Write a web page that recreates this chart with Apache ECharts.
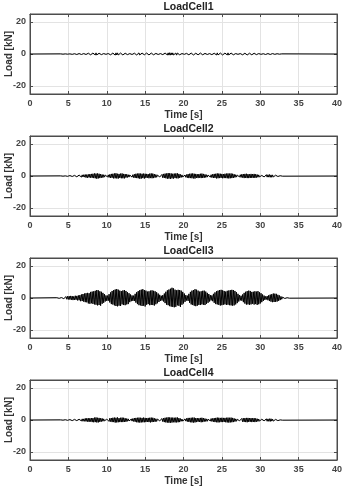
<!DOCTYPE html>
<html>
<head>
<meta charset="utf-8">
<style>
html,body{margin:0;padding:0;background:#fff;}
#chart{width:344px;height:488px;}
</style>
<script src="https://cdn.jsdelivr.net/npm/echarts@6/dist/echarts.min.js"></script>
</head>
<body>
<div id="chart"></div>
<script>
// ---- data (kN) ----
const titles = ['LoadCell1', 'LoadCell2', 'LoadCell3', 'LoadCell4'];
const xTicks = [0, 5, 10, 15, 20, 25, 30, 35, 40];
const yTicks = [-20, 0, 20];
const xLabel = 'Time [s]';
const yLabel = 'Load [kN]';

// LoadCell1: samples every 0.1 s starting at 4.0 s
const cell1Start = 4.0, cell1Step = 0.1;
const cell1 = [
 0.1,-0.1,0.1,-0.1,0.1,-0.1,0.1,-0.1,0.2,-0.1,
 0.2,-0.2,0.1,-0.2,0.2,-0.2,0.2,-0.1,0.2,-0.2,
 0.2,-0.3,0.2,-0.3,0.3,-0.2,0.3,-0.3,0.3,-0.3,
 0.3,-0.4,0.4,-0.3,0.4,-0.4,0.5,-0.4,0.4,-0.5,
 0.5,-0.5,0.6,-0.5,0.6,-0.6,0.7,-0.6,0.6,-0.5,
 0.5,-0.5,0.4,-0.4,0.4,-0.3,0.3,-0.3,0.3,-0.2,
 0.3,-0.3,0.3,-0.4,0.4,-0.5,0.5,-0.5,0.6,-0.6,
 0.6,-0.7,0.7,-0.6,0.7,-0.6,0.6,-0.5,0.6,-0.6,
 0.6,-0.6,0.5,-0.5,0.5,-0.4,0.4,-0.4,0.3,-0.3,
 0.3,-0.2,0.3,-0.3,0.4,-0.4,0.5,-0.5,0.5,-0.6,
 0.6,-0.6,0.7,-0.6,0.6,-0.7,0.6,-0.6,0.6,-0.5,
 0.5,-0.5,0.6,-0.5,0.5,-0.6,0.6,-0.6,0.6,-0.6,
 0.6,-0.5,0.5,-0.4,0.4,-0.3,0.3,-0.3,0.2,-0.3,
 0.3,-0.3,0.4,-0.4,0.5,-0.5,0.6,-0.6,0.7,-0.6,
 0.7,-0.7,0.8,-0.7,0.7,-0.6,0.7,-0.6,0.6,-0.6,
 0.6,-0.7,0.6,-0.6,0.5,-0.5,0.4,-0.4,0.3,-0.3,
 0.3,-0.2,0.3,-0.3,0.4,-0.4,0.5,-0.5,0.6,-0.6,
 0.6,-0.6,0.7,-0.6,0.6,-0.6,0.5,-0.5,0.5,-0.5,
 0.5,-0.5,0.6,-0.5,0.6,-0.5,0.5,-0.4,0.4,-0.4,
 0.3,-0.3,0.3,-0.2,0.3,-0.3,0.4,-0.4,0.5,-0.5,
 0.5,-0.6,0.6,-0.6,0.7,-0.6,0.6,-0.6,0.6,-0.5,
 0.6,-0.6,0.5,-0.5,0.6,-0.6,0.6,-0.6,0.7,-0.6,
 0.6,-0.6,0.6,-0.5,0.5,-0.5,0.4,-0.4,0.3,-0.3,
 0.3,-0.2,0.3,-0.3,0.3,-0.4,0.4,-0.5,0.5,-0.5,
 0.5,-0.5,0.6,-0.6,0.5,-0.5,0.5,-0.5,0.5,-0.5,
 0.5,-0.5,0.5,-0.4,0.4,-0.4,0.3,-0.3,0.3,-0.2,
 0.2,-0.2,0.2,-0.2,0.2,-0.3,0.3,-0.3,0.3,-0.3,
 0.3,-0.3,0.4,-0.3,0.3,-0.3,0.3,-0.3,0.3,-0.2,
 0.2,-0.2,0.2,-0.2,0.1,-0.1,0.1,-0.1,0.1,-0.1,
 0.1
];

// LoadCell2: samples every 0.1 s starting at 4.0 s
const cell2Start = 4.0, cell2Step = 0.1;
const cell2 = [
 0.1,-0.1,0.2,-0.1,0.2,-0.2,0.1,-0.2,0.2,-0.2,
 0.3,-0.2,0.3,-0.3,0.4,-0.3,0.3,-0.4,0.4,-0.3,
 0.4,-0.5,0.4,-0.5,0.6,-0.5,0.6,-0.7,0.7,-0.6,
 0.8,-0.7,0.9,-1.0,0.9,-1.1,1.0,-0.9,1.2,-1.1,
 1.3,-1.1,1.4,-1.3,1.6,-1.4,1.5,-1.7,1.6,-1.5,
 1.4,-1.3,1.2,-1.1,0.9,-1.0,0.8,-0.7,0.6,-0.5,
 0.5,-0.6,0.7,-0.9,1.0,-1.2,1.3,-1.1,1.4,-1.5,
 1.6,-1.4,1.7,-1.5,1.4,-1.6,1.3,-1.2,1.5,-1.4,
 1.6,-1.4,1.3,-1.5,1.2,-1.0,1.1,-0.9,0.8,-0.7,
 0.6,-0.5,0.5,-0.7,0.8,-1.0,1.1,-1.2,1.4,-1.3,
 1.5,-1.4,1.6,-1.7,1.5,-1.6,1.4,-1.3,1.5,-1.6,
 1.4,-1.2,1.3,-1.1,1.2,-1.4,1.5,-1.3,1.6,-1.4,
 1.5,-1.3,1.2,-1.0,0.9,-0.8,0.6,-0.5,0.5,-0.6,
 0.6,-0.8,1.0,-1.1,1.3,-1.2,1.5,-1.4,1.6,-1.7,
 1.8,-1.6,1.7,-1.8,1.6,-1.5,1.4,-1.6,1.5,-1.3,
 1.6,-1.4,1.7,-1.5,1.3,-1.2,1.0,-0.9,0.7,-0.6,
 0.5,-0.6,0.6,-0.8,0.9,-1.1,1.2,-1.3,1.4,-1.3,
 1.5,-1.4,1.6,-1.5,1.4,-1.6,1.3,-1.2,1.1,-1.3,
 1.2,-1.1,1.4,-1.3,1.5,-1.2,1.3,-1.1,1.0,-0.9,
 0.8,-0.7,0.6,-0.5,0.5,-0.7,0.8,-1.0,1.1,-1.2,
 1.3,-1.2,1.4,-1.5,1.6,-1.4,1.5,-1.3,1.4,-1.2,
 1.3,-1.4,1.2,-1.3,1.4,-1.3,1.5,-1.4,1.6,-1.5,
 1.5,-1.4,1.6,-1.3,1.4,-1.2,1.1,-0.9,0.8,-0.7,
 0.6,-0.5,0.5,-0.6,0.8,-0.9,1.1,-1.0,1.2,-1.3,
 1.3,-1.2,1.4,-1.3,1.2,-1.3,1.1,-1.2,1.3,-1.2,
 1.2,-1.1,1.3,-1.2,1.1,-1.0,0.9,-0.8,0.7,-0.6,
 0.5,-0.5,0.4,-0.4,0.5,-0.6,0.6,-0.7,0.8,-0.7,
 0.8,-0.7,0.9,-0.8,0.7,-0.8,0.7,-0.6,0.6,-0.5,
 0.5,-0.4,0.4,-0.3,0.3,-0.2,0.2,-0.1,0.1,-0.1,
 0.1
];

// LoadCell3: samples every 0.1 s starting at 3.5 s
const cell3Start = 3.5, cell3Step = 0.1;
const cell3 = [
 0.2,-0.3,0.3,-0.2,0.4,-0.3,0.3,-0.4,0.5,-0.4,
 0.6,-0.7,0.9,-0.8,1.1,-0.9,1.2,-1.0,1.3,-1.1,
 1.2,-1.3,1.0,-1.2,1.4,-1.1,1.3,-1.5,1.6,-1.4,
 1.8,-2.0,2.2,-1.9,2.5,-2.3,2.8,-2.6,3.0,-2.7,
 3.2,-3.4,3.0,-3.6,3.8,-3.3,4.0,-3.7,4.2,-4.0,
 4.5,-4.2,5.0,-4.6,4.8,-4.4,4.2,-4.8,3.9,-3.6,
 3.2,-3.0,2.4,-2.2,1.6,-1.8,1.5,-1.7,2.4,-2.8,
 3.5,-3.8,4.4,-4.1,4.9,-4.6,5.3,-5.0,5.6,-5.2,
 5.2,-4.8,4.6,-5.0,4.3,-4.0,4.7,-4.4,5.0,-4.5,
 4.4,-4.0,3.6,-3.8,3.0,-2.6,2.2,-2.0,1.6,-1.8,
 1.5,-1.9,2.6,-2.9,3.6,-3.8,4.3,-4.5,4.9,-4.6,
 5.2,-5.0,5.5,-4.8,5.0,-5.3,4.6,-4.2,4.0,-3.8,
 4.2,-4.5,4.6,-4.3,4.8,-4.4,4.5,-4.7,4.2,-3.9,
 3.6,-3.3,2.8,-2.5,2.0,-1.8,1.4,-1.6,1.8,-2.2,
 2.8,-3.2,3.9,-4.2,4.8,-4.5,5.3,-5.1,5.8,-5.4,
 6.4,-5.6,6.0,-5.8,5.2,-5.5,4.8,-4.6,5.1,-4.9,
 5.0,-5.6,4.6,-4.2,3.8,-3.4,2.8,-2.4,1.8,-1.6,
 1.5,-1.8,2.6,-3.0,3.8,-4.0,4.6,-4.4,5.0,-4.8,
 5.5,-5.1,5.2,-4.8,4.6,-4.3,4.0,-4.4,4.2,-4.0,
 4.5,-4.2,4.6,-4.4,4.0,-3.6,3.2,-3.0,2.5,-2.2,
 1.8,-1.5,1.6,-2.0,2.6,-3.0,3.5,-3.8,4.2,-4.0,
 4.6,-4.3,5.0,-4.7,5.1,-4.5,4.8,-4.2,4.4,-4.0,
 4.0,-4.3,4.5,-4.2,4.7,-4.5,4.9,-4.6,5.1,-4.8,
 5.0,-4.6,4.4,-4.0,3.6,-3.2,2.6,-2.2,1.8,-1.5,
 1.4,-1.7,2.2,-2.6,3.2,-3.5,3.9,-4.1,4.3,-4.0,
 4.6,-4.2,4.4,-4.0,3.8,-3.6,3.9,-4.1,4.2,-3.8,
 4.0,-4.3,4.3,-3.9,3.6,-3.4,3.0,-2.6,2.2,-1.8,
 1.5,-1.2,1.0,-0.9,1.2,-1.4,1.7,-1.9,2.1,-2.3,
 2.4,-2.6,2.8,-2.5,2.7,-2.4,2.6,-2.2,2.0,-1.8,
 1.6,-1.3,1.0,-0.8,0.6,-0.5,0.4,-0.3,0.3,-0.2,
 0.2,-0.1,0.1,-0.1,0.1,0
];

// LoadCell4: samples every 0.1 s starting at 4.0 s
const cell4Start = 4.0, cell4Step = 0.1;
const cell4 = [
 0.1,-0.2,0.1,-0.1,0.2,-0.1,0.2,-0.2,0.1,-0.2,
 0.2,-0.3,0.3,-0.2,0.3,-0.4,0.3,-0.3,0.4,-0.4,
 0.5,-0.4,0.5,-0.6,0.5,-0.6,0.7,-0.6,0.7,-0.8,
 0.7,-0.8,1.0,-0.9,1.1,-1.0,1.1,-1.2,1.1,-1.0,
 1.2,-1.3,1.2,-1.4,1.5,-1.3,1.6,-1.5,1.4,-1.5,
 1.3,-1.2,1.1,-1.0,1.0,-0.8,0.7,-0.6,0.5,-0.5,
 0.6,-0.5,0.8,-0.9,1.1,-1.0,1.2,-1.3,1.4,-1.3,
 1.5,-1.6,1.4,-1.5,1.6,-1.4,1.2,-1.3,1.4,-1.3,
 1.5,-1.3,1.4,-1.2,1.1,-1.1,0.9,-0.8,0.7,-0.6,
 0.5,-0.6,0.6,-0.7,0.9,-0.9,1.2,-1.1,1.3,-1.4,
 1.4,-1.5,1.5,-1.6,1.4,-1.5,1.3,-1.4,1.5,-1.4,
 1.3,-1.3,1.2,-1.2,1.3,-1.3,1.4,-1.5,1.5,-1.3,
 1.4,-1.2,1.1,-1.1,0.8,-0.9,0.6,-0.6,0.5,-0.5,
 0.7,-0.7,0.9,-1.0,1.2,-1.3,1.4,-1.5,1.5,-1.6,
 1.7,-1.7,1.6,-1.7,1.5,-1.6,1.5,-1.4,1.4,-1.5,
 1.5,-1.5,1.6,-1.4,1.2,-1.3,0.9,-0.8,0.6,-0.7,
 0.5,-0.5,0.7,-0.7,1.0,-1.0,1.3,-1.2,1.3,-1.4,
 1.4,-1.5,1.5,-1.6,1.5,-1.5,1.2,-1.3,1.2,-1.1,
 1.1,-1.2,1.3,-1.4,1.4,-1.3,1.2,-1.0,0.9,-0.9,
 0.7,-0.8,0.5,-0.6,0.6,-0.6,0.9,-0.9,1.0,-1.1,
 1.2,-1.3,1.3,-1.4,1.5,-1.5,1.4,-1.4,1.3,-1.3,
 1.4,-1.3,1.3,-1.2,1.3,-1.4,1.4,-1.5,1.5,-1.6,
 1.4,-1.5,1.5,-1.4,1.3,-1.3,1.0,-1.0,0.7,-0.8,
 0.5,-0.6,0.6,-0.5,0.7,-0.8,1.0,-1.1,1.1,-1.2,
 1.2,-1.3,1.3,-1.4,1.3,-1.2,1.2,-1.1,1.2,-1.3,
 1.1,-1.2,1.2,-1.3,1.0,-1.1,0.8,-0.9,0.6,-0.7,
 0.5,-0.4,0.5,-0.4,0.6,-0.5,0.7,-0.6,0.7,-0.8,
 0.7,-0.8,0.8,-0.9,0.8,-0.7,0.6,-0.7,0.5,-0.6,
 0.4,-0.5,0.3,-0.4,0.2,-0.3,0.1,-0.2,0.1,-0.1,
 0.1
];

const xMin = 0, xMax = 40, yMin = -25, yMax = 25;

// ---- build chart ----
function toPairs(vals, start, step) {
  const out = [[xMin, 0]];
  for (let i = 0; i < vals.length; i++) out.push([+(start + i * step).toFixed(2), vals[i]]);
  out.push([xMax, 0]);
  return out;
}
const signals = [
  toPairs(cell1, cell1Start, cell1Step),
  toPairs(cell2, cell2Start, cell2Step),
  toPairs(cell3, cell3Start, cell3Step),
  toPairs(cell4, cell4Start, cell4Step)
];

const tops = [14, 136, 258, 380];
const gh = 80;
const FONT = '"Liberation Sans", Arial, sans-serif';
const frame = '#4d4d4d';
const gridCol = '#e3e3e3';
const txt = '#333';

const option = {
  animation: false,
  backgroundColor: '#fff',
  title: [], grid: [], xAxis: [], yAxis: [], series: []
};

for (let k = 0; k < 4; k++) {
  option.title.push({
    text: titles[k], left: 183.5, top: tops[k] - 17, textAlign: 'center',
    textStyle: {fontFamily: FONT, fontSize: 10.5, fontWeight: 'bold', color: '#222'}
  });
  option.grid.push({
    left: 30, right: 7, top: tops[k], height: gh,
    containLabel: false, outerBoundsMode: 'none',
    show: true, borderColor: frame, borderWidth: 1, backgroundColor: '#fff'
  });
  // bottom x
  option.xAxis.push({
    type: 'value', gridIndex: k, min: xMin, max: xMax, interval: 5,
    name: xLabel, nameLocation: 'middle', nameGap: 16, nameMoveOverlap: false,
    nameTextStyle: {fontFamily: FONT, fontSize: 10, fontWeight: 'bold', color: txt},
    axisLine: {show: true, onZero: false, lineStyle: {color: frame}},
    axisTick: {show: true, inside: true, length: 3, lineStyle: {color: frame}},
    axisLabel: {fontFamily: FONT, fontSize: 9, fontWeight: 'bold', color: '#444', margin: 5,
      customValues: xTicks},
    splitLine: {show: true, lineStyle: {color: gridCol, width: 1}}
  });
  // top x (box ticks)
  option.xAxis.push({
    type: 'value', gridIndex: k, min: xMin, max: xMax, interval: 5, position: 'top',
    axisLine: {show: true, onZero: false, lineStyle: {color: frame}},
    axisTick: {show: true, inside: true, length: 3, lineStyle: {color: frame}},
    axisLabel: {show: false}, splitLine: {show: false}
  });
  // left y
  option.yAxis.push({
    type: 'value', gridIndex: k, min: yMin, max: yMax,
    name: yLabel, nameLocation: 'middle', nameGap: 16, nameMoveOverlap: false,
    nameTextStyle: {fontFamily: FONT, fontSize: 10, fontWeight: 'bold', color: txt},
    axisLine: {show: true, onZero: false, lineStyle: {color: frame}},
    axisTick: {show: true, inside: true, length: 3, lineStyle: {color: frame}, customValues: yTicks},
    axisLabel: {fontFamily: FONT, fontSize: 9, fontWeight: 'bold', color: '#444', margin: 4,
      customValues: yTicks},
    splitLine: {show: true, lineStyle: {color: gridCol, width: 1}}
  });
  // right y (box ticks)
  option.yAxis.push({
    type: 'value', gridIndex: k, min: yMin, max: yMax, position: 'right',
    axisLine: {show: true, onZero: false, lineStyle: {color: frame}},
    axisTick: {show: true, inside: true, length: 3, lineStyle: {color: frame}, customValues: yTicks},
    axisLabel: {show: false}, splitLine: {show: false}
  });
  option.series.push({
    type: 'line', xAxisIndex: 2 * k, yAxisIndex: 2 * k, data: signals[k],
    showSymbol: false, symbol: 'none', sampling: null, z: 5,
    lineStyle: {color: '#000', width: 1}
  });
}

const chart = echarts.init(document.getElementById('chart'), null, {renderer: 'canvas'});
chart.setOption(option);
</script>
</body>
</html>
